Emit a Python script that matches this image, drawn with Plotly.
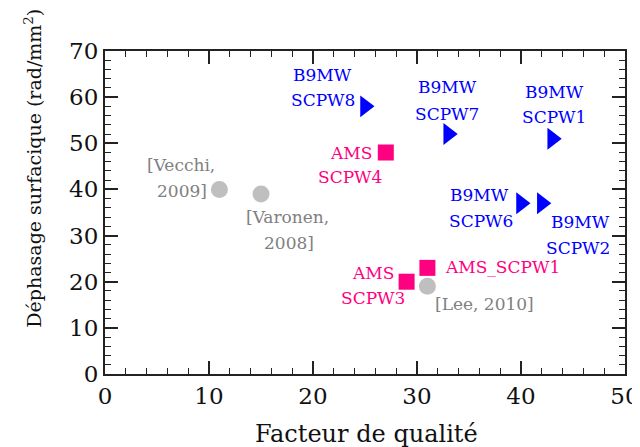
import plotly.graph_objects as go

# Data
ref_names = ["[Vecchi, 2009]", "[Varonen, 2008]", "[Lee, 2010]"]
ref_q = [11, 15, 31]
ref_phi = [40, 39, 19]

ams_names = ["AMS_SCPW4", "AMS_SCPW3", "AMS_SCPW1"]
ams_q = [27, 29, 31]
ams_phi = [48, 20, 23]

b9_names = ["B9MW_SCPW8", "B9MW_SCPW7", "B9MW_SCPW1", "B9MW_SCPW6", "B9MW_SCPW2"]
b9_q = [25, 33, 43, 40, 42]
b9_phi = [58, 52, 51, 37, 37]

x_ticks = [0, 10, 20, 30, 40, 50]
y_ticks = [0, 10, 20, 30, 40, 50, 60, 70]

GREY_M = "#BFBFBF"
GREY_T = "#808080"
PINK = "#FF0080"
BLUE = "#0000FF"
FONT = "DejaVu Serif"

fig = go.Figure()
fig.add_trace(go.Scatter(x=ref_q, y=ref_phi, mode="markers", text=ref_names,
                         marker=dict(symbol="circle", size=17, color=GREY_M, line=dict(width=0))))
fig.add_trace(go.Scatter(x=ams_q, y=ams_phi, mode="markers", text=ams_names,
                         marker=dict(symbol="square", size=16, color=PINK, line=dict(width=0))))
fig.add_trace(go.Scatter(x=b9_q, y=b9_phi, mode="markers", text=b9_names,
                         marker=dict(symbol="triangle-right", size=19, color=BLUE, line=dict(width=0))))

# label lines: (text, x, y, color, xanchor)
labels = [
    ("[Vecchi,", 7.3, 45.3, GREY_T, "center"),
    ("2009]", 7.4, 39.7, GREY_T, "center"),
    ("[Varonen,", 17.5, 34.0, GREY_T, "center"),
    ("2008]", 17.7, 28.4, GREY_T, "center"),
    ("[Lee, 2010]", 36.45, 15.2, GREY_T, "center"),
    ("AMS", 25.8, 21.9, PINK, "center"),
    ("SCPW3", 25.8, 16.5, PINK, "center"),
    ("AMS_SCPW1", 32.5, 23.2, PINK, "left"),
    ("AMS", 23.7, 47.9, PINK, "center"),
    ("SCPW4", 23.6, 42.6, PINK, "center"),
    ("B9MW", 20.96, 64.8, BLUE, "center"),
    ("SCPW8", 20.96, 59.3, BLUE, "center"),
    ("B9MW", 32.9, 62.1, BLUE, "center"),
    ("SCPW7", 32.9, 56.4, BLUE, "center"),
    ("B9MW", 43.2, 61.2, BLUE, "center"),
    ("SCPW1", 43.2, 55.7, BLUE, "center"),
    ("B9MW", 36.0, 38.7, BLUE, "center"),
    ("SCPW6", 36.2, 33.1, BLUE, "center"),
    ("B9MW", 45.7, 32.9, BLUE, "center"),
    ("SCPW2", 45.5, 27.3, BLUE, "center"),
]
for t, x, y, c, xa in labels:
    fig.add_annotation(x=x, y=y, xref="x", yref="y", text=t, showarrow=False,
                       xanchor=xa, yanchor="middle",
                       font=dict(family=FONT, size=17, color=c))

# axis titles
fig.add_annotation(x=0.502, y=-0.185, xref="paper", yref="paper",
                   text="Facteur de qualité", showarrow=False,
                   xanchor="center", yanchor="middle",
                   font=dict(family=FONT, size=24, color="#111111"))
fig.add_annotation(x=-0.139, y=0.638, xref="paper", yref="paper",
                   text="Déphasage surfacique (rad/mm<sup>2</sup>)", showarrow=False,
                   textangle=-90, xanchor="center", yanchor="middle",
                   font=dict(family=FONT, size=19, color="#111111"))

axis_common = dict(showgrid=False, zeroline=False, showline=True, linecolor="#222222",
                   linewidth=2, mirror="allticks", ticks="inside", ticklen=13,
                   tickwidth=1.5, tickcolor="#222222",
                   tickfont=dict(family=FONT, size=23, color="#111111"))

fig.update_xaxes(range=[0, 50], tickvals=x_ticks, ticktext=[str(v) for v in x_ticks],
                 minor=dict(ticks="inside", ticklen=6, dtick=2, tickwidth=1.3,
                            tickcolor="#222222", showgrid=False),
                 **axis_common)
fig.update_yaxes(range=[0, 70], tickvals=y_ticks, ticktext=[str(v) for v in y_ticks],
                 minor=dict(ticks="inside", ticklen=6, dtick=2, tickwidth=1.3,
                            tickcolor="#222222", showgrid=False),
                 **axis_common)

# page body has an 8px margin; compensate so the plot area lands at 105..625 x 51..374
fig.update_layout(width=632, height=439, showlegend=False,
                  plot_bgcolor="white", paper_bgcolor="white",
                  margin=dict(l=97, r=15, t=43, b=73, autoexpand=False),
                  font=dict(family=FONT))

fig.write_html("out.html")
